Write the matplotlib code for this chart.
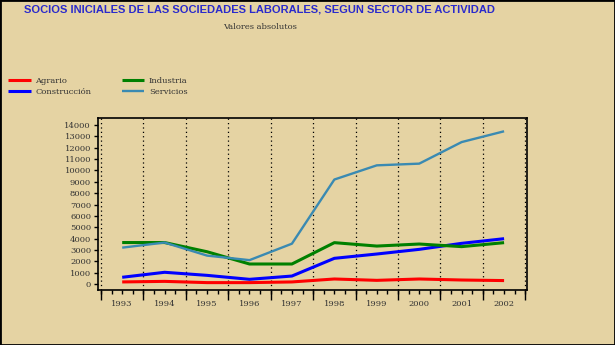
import matplotlib
matplotlib.use("Agg")
import matplotlib.pyplot as plt
from matplotlib.ticker import MultipleLocator
from matplotlib.patches import Rectangle

years = [1993, 1994, 1995, 1996, 1997, 1998, 1999, 2000, 2001, 2002]
agrario = [180, 230, 120, 120, 180, 440, 320, 440, 350, 300]
construccion = [590, 1030, 760, 410, 700, 2260, 2640, 3050, 3580, 3990]
industria = [3650, 3650, 2840, 1760, 1760, 3640, 3340, 3520, 3290, 3640]
servicios = [3200, 3650, 2500, 2100, 3550, 9200, 10450, 10600, 12500, 13450]
yticks = list(range(0, 14001, 1000))

title = "SOCIOS INICIALES DE LAS SOCIEDADES LABORALES, SEGUN SECTOR DE ACTIVIDAD"
subtitle = "Valores absolutos"

bg = "#E5D3A3"
txt = "#333333"

fig = plt.figure(figsize=(6.15, 3.45), dpi=100, facecolor=bg)
W, H = 615, 345
ax = fig.add_axes([98 / W, 1 - 290 / H, (527 - 98) / W, (290 - 118) / H])
ax.set_facecolor(bg)

ax.plot(years, agrario, color="#FF0000", lw=2.2, label="Agrario", solid_capstyle="butt")
ax.plot(years, construccion, color="#0000FF", lw=2.2, label="Construcción", solid_capstyle="butt")
ax.plot(years, industria, color="#008000", lw=2.2, label="Industria", solid_capstyle="butt")
ax.plot(years, servicios, color="#3A8AB2", lw=1.7, label="Servicios", solid_capstyle="butt")

ax.set_xlim(1992.43, 2002.54)
ax.set_ylim(-530, 14620)

for k in range(1992, 2003):
    ax.axvline(k + 0.5, color="black", lw=0.9, ls=(0, (1, 2.5)), zorder=0)

ax.set_xticks(years)
ax.set_xticklabels([str(y) for y in years], fontsize=6, color=txt, family="DejaVu Serif")
ax.xaxis.set_minor_locator(MultipleLocator(0.25))
ax.tick_params(axis="x", which="both", length=3, width=1, color="black", pad=4)
sec = ax.secondary_xaxis("bottom")
sec.set_xticks([k + 0.5 for k in range(1992, 2003)])
sec.set_xticklabels([])
sec.tick_params(length=7, width=1)
sec.spines["bottom"].set_visible(False)

ax.set_yticks(yticks)
ax.set_yticklabels([str(v) for v in yticks], fontsize=6, color=txt, family="DejaVu Serif")
ax.tick_params(axis="y", length=3, width=1, pad=2)
for s in ax.spines.values():
    s.set_linewidth(1.2)

fig.text(260 / W, 1 - 10 / H, title, ha="center", va="center", color="#2A2ACC",
         fontsize=8, fontweight="bold", family="Liberation Sans")
fig.text(260 / W, 1 - 27 / H, subtitle, ha="center", va="center", color=txt,
         fontsize=6, family="DejaVu Serif")

leg = fig.legend(loc="upper left", bbox_to_anchor=(8 / W, 1 - 77 / H), ncol=2,
                 frameon=False, prop={"family": "DejaVu Serif", "size": 6},
                 handlelength=2.7, handletextpad=0.6, columnspacing=3.6,
                 labelspacing=0.3, borderaxespad=0, borderpad=0)
for t in leg.get_texts():
    t.set_color(txt)

fig.patches.append(Rectangle((0, 0), 1, 1, transform=fig.transFigure, fill=False,
                             edgecolor="black", lw=2))

fig.savefig("out.png", dpi=100, facecolor=bg)
